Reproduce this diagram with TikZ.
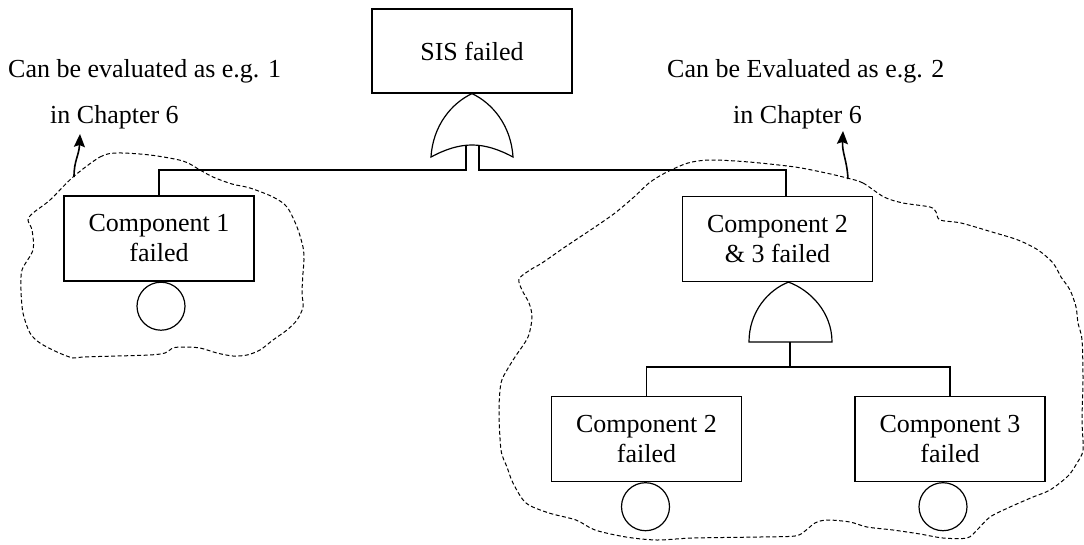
\documentclass[tikz,border=0pt]{standalone}
\usepackage{fontspec}
\setmainfont{Liberation Serif}
\usetikzlibrary{arrows.meta}
\begin{document}
\begin{tikzpicture}[x=1pt,y=-1pt,
  box/.style={draw, line width=1.2pt, minimum width=190pt, minimum height=85pt,
    align=center, inner sep=0pt, font=\fontsize{26}{30}\selectfont},
  wire/.style={line width=1.2pt},
  gate/.style={line width=1.2pt, fill=white},
  event/.style={draw, circle, line width=1.2pt, minimum size=48pt, inner sep=0pt},
  cloudline/.style={line width=1pt, dash pattern=on 4pt off 2.5pt},
  note/.style={anchor=base west, inner sep=0pt, font=\fontsize{26}{30}\selectfont},
  pointer/.style={line width=1.6pt, -{Stealth[length=13pt,width=11pt,inset=2pt]}}]
\useasboundingbox (0,0) rectangle (1084,544);

% dashed boundaries of the two evaluated sub-trees
\draw[cloudline] plot[smooth cycle, tension=0.5] coordinates {
  (73,177) (100,157) (117,153) (150,155) (183,161) (200,170) (213,177)
  (232,184) (250,188) (273,197) (287,207) (297,227) (303,247) (304,260)
  (303,273) (302,293) (303,307) (297,320) (287,330) (273,340) (260,350)
  (247,355) (233,356) (217,353) (200,348) (183,347) (173,348) (165,353)
  (150,355) (117,356) (83,357) (73,358) (57,352) (40,343) (30,333)
  (23,313) (21,290) (22,270) (33,250) (32,230) (28,220) (33,213) (50,200)};
\draw[cloudline] plot[smooth cycle, tension=0.5] coordinates {
  (847,178) (863,183) (884,197) (903,203) (930,207) (936,212) (940,220)
  (961,223) (992,232) (1018,240) (1038,250) (1053,263) (1061,277)
  (1070,290) (1076,307) (1078,323) (1082,340) (1083,380) (1082,420)
  (1083,450) (1077,463) (1068,476) (1050,490) (1033,497) (1010,507)
  (990,517) (977,530) (967,538) (943,538) (920,534) (893,530) (867,527)
  (850,522) (827,520) (815,523) (805,531) (795,536) (760,537) (693,538)
  (657,540) (626,537) (595,530) (576,520) (549,513) (526,503) (513,483)
  (507,467) (501,450) (499,410) (501,383) (507,370) (515,357) (528,337)
  (532,317) (529,303) (522,290) (519,279) (530,270) (542,263) (565,247)
  (595,227) (615,213) (634,197) (649,183) (665,173) (688,163) (711,160)
  (749,162) (795,167) (826,173)};

% events
\node[box, minimum width=200pt, minimum height=84pt] (top) at (472,51) {SIS failed};
\node[box] (c1) at (159,238.5) {Component 1\\failed};
\node[box] (c23) at (777.5,239) {Component 2\\\& 3 failed};
\node[box] (c2) at (646.5,439) {Component 2\\failed};
\node[box] (c3) at (950,439) {Component 3\\failed};

% basic event circles
\node[event, anchor=north] (e1) at ([xshift=2pt]c1.south) {};
\node[event, anchor=north] (e2) at ([xshift=-1pt]c2.south) {};
\node[event, anchor=north] (e3) at ([xshift=-7pt]c3.south) {};

% OR gate under the top event
\draw[gate] (431,157) .. controls (433,125) and (452,103) .. (top.south)
  .. controls (492,103) and (511,125) .. (513,157)
  .. controls (498,149) and (485,145) .. (472,145)
  .. controls (459,145) and (446,149) .. cycle;
\draw[wire] (466,145) -- (466,170) -| (c1.north);
\draw[wire] (479,145) -- (479,170) -| ([xshift=8.5pt]c23.north);

% AND gate under component 2 & 3
\coordinate (andtop) at ([xshift=11pt]c23.south);
\draw[gate] (749,342) .. controls (749,312) and (768,290) .. (andtop)
  .. controls (810,290) and (832,312) .. (832,342) -- cycle;
\draw[wire] (790,342) -- (790,368);
\draw[wire] (c2.north) -- ++(0,-29) -| (c3.north);

% annotations
\node[note] (n1) at (8,77) {Can be evaluated as e.g. 1};
\node[note] (n1b) at (50,123) {in Chapter 6};
\node[note] (n2) at (667,77) {Can be Evaluated as e.g. 2};
\node[note] (n2b) at (733,123) {in Chapter 6};

\coordinate (la) at (74,177);
\coordinate (lt) at (80,134);
\coordinate (ra) at (848,179);
\coordinate (rt) at (843,131);
\draw[pointer] (la) .. controls (74,160) and (79,156) .. (lt);
\draw[pointer] (ra) .. controls (847,160) and (842,153) .. (rt);
\end{tikzpicture}
\end{document}
